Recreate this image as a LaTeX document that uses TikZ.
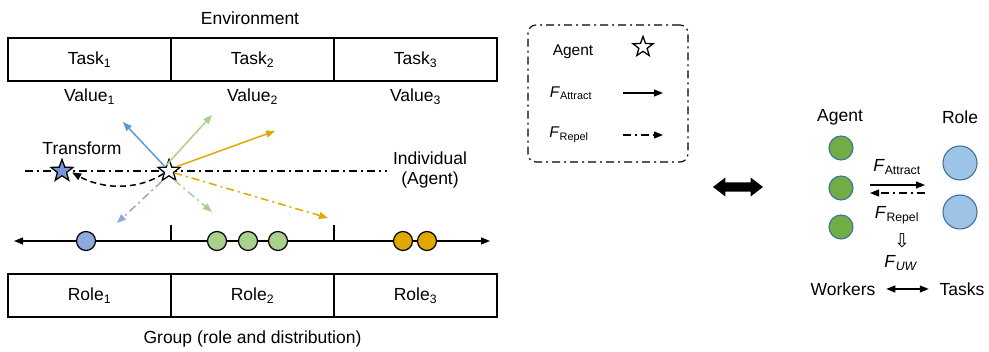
\documentclass[tikz,border=0pt]{standalone}
\usepackage{fontspec}
\setmainfont{Liberation Sans}
\newfontfamily\symfont{DejaVu Sans}
\usetikzlibrary{arrows.meta, positioning, shapes.geometric, shapes.arrows}
\definecolor{blueF}{HTML}{5B9BD5}
\definecolor{blueL}{HTML}{8EA9DB}
\definecolor{greenL}{HTML}{A9D18E}
\definecolor{greenD}{HTML}{70AD47}
\definecolor{orangeF}{HTML}{E0A800}
\definecolor{roleblue}{HTML}{9DC3E6}
\definecolor{rimblue}{HTML}{41719C}
\definecolor{starblue}{HTML}{7796D8}

\begin{document}
\begin{tikzpicture}[x=1pt, y=-1pt, line width=1.1pt,
    >={Triangle[length=9pt,width=7pt]},
    font=\fontsize{17.5}{20}\selectfont]
    \tikzstyle{cell} = [draw, minimum width=163pt, minimum height=43pt, outer sep=0pt]
    \tikzstyle{ball} = [circle, draw, line width=1.2pt, minimum size=19pt, inner sep=0pt]
    \tikzstyle{dashdot} = [dash pattern=on 8pt off 4pt on 2pt off 4pt]
    \tikzstyle{force} = [->, line width=1.5pt]
    \tikzstyle{agentstar} = [star, star points=5, star point ratio=2.4, draw,
        line width=1.3pt, minimum size=23pt, inner sep=0pt]
    \tikzstyle{small} = [font=\fontsize{15.5}{18}\selectfont]
    \useasboundingbox (0,0) rectangle (989,352);

    % environment: tasks and their values
    \node at (250,18) (env) {Environment};
    \node [cell] at (89.5,59.5) (task1) {Task\textsubscript{1}};
    \node [cell, right=0pt of task1] (task2) {Task\textsubscript{2}};
    \node [cell, right=0pt of task2] (task3) {Task\textsubscript{3}};
    \node [below=4pt of task1] (val1) {Value\textsubscript{1}};
    \node [below=4pt of task2] (val2) {Value\textsubscript{2}};
    \node [below=4pt of task3] (val3) {Value\textsubscript{3}};

    % individual level
    \coordinate (lineL) at (25,171);
    \coordinate (lineR) at (387,171);
    \draw [dashdot] (lineL) -- (lineR);
    \node at (82,148) (transform) {Transform};
    \node [align=center] at (430,170) (indiv) {Individual\\(Agent)};
    \node [agentstar, fill=starblue] at (62,171) (moved) {};
    \node [agentstar, fill=white] at (169,171) (agent) {};

    \coordinate (pB) at (123,122);
    \coordinate (pG) at (212,115);
    \coordinate (pO) at (275,131);
    \coordinate (rB) at (117,223);
    \coordinate (rG) at (212,212);
    \coordinate (rO) at (328,218);
    \draw [force, blueF] (agent) -- (pB);
    \draw [force, greenL] (agent.115) -- (pG);
    \draw [force, orangeF] (agent.30) -- (pO);
    \draw [force, dashdot, blueL] (agent.235) -- (rB);
    \draw [force, dashdot, greenL] (agent.-60) -- (rG);
    \draw [force, dashdot, orangeF] (agent.-20) -- (rO);
    \draw [force, dash pattern=on 6pt off 4pt, shorten >=3pt]
        (agent.205) .. controls (135,192) and (100,188) .. (moved.east);

    % group level: role axis
    \coordinate (axL) at (14,241);
    \coordinate (axR) at (490,241);
    \draw [<->] (axL) -- (axR);
    \foreach \t in {task1, task2}
        \draw (\t.south east |- 0,225) -- (\t.south east |- axL);
    \node [ball, fill=blueL] at (86,241) (b1) {};
    \node [ball, fill=greenL] at (217,241) (g1) {};
    \node [ball, fill=greenL] at (248,241) (g2) {};
    \node [ball, fill=greenL] at (278,241) (g3) {};
    \node [ball, fill=orangeF] at (403,241) (o1) {};
    \node [ball, fill=orangeF] at (427,241) (o2) {};

    \node [cell] at (89.5,295.5) (role1) {Role\textsubscript{1}};
    \node [cell, right=0pt of role1] (role2) {Role\textsubscript{2}};
    \node [cell, right=0pt of role2] (role3) {Role\textsubscript{3}};
    \node [below=10pt of role2] (group) {Group (role and distribution)};

    % legend
    \node [draw, dashdot, rounded corners=8pt, minimum width=160pt, minimum height=137pt]
        at (608,93.5) (legend) {};
    \node [small] at (573,52) (lgAgent) {Agent};
    \node [agentstar, minimum size=21pt] at (643,47) (lgStar) {};
    \node [small] at (571,93) (lgAttr) {\textit{F}\textsubscript{Attract}};
    \node [small] at (569,135) (lgRep) {\textit{F}\textsubscript{Repel}};
    \coordinate (lgA1) at (623,93);
    \coordinate (lgA2) at (663,93);
    \coordinate (lgR1) at (623,135);
    \coordinate (lgR2) at (663,135);
    \draw [->] (lgA1) -- (lgA2);
    \draw [->, dashdot] (lgR1) -- (lgR2);

    \node [double arrow, fill=black, minimum height=50pt, inner sep=4pt,
        double arrow head extend=5pt, double arrow tip angle=75] at (738,187) (link) {};

    % agent-role view
    \node at (840,117) (agentHd) {Agent};
    \node at (960,117) (roleHd) {Role};
    \foreach \y [count=\i] in {148,188,227}
        \node [circle, draw=rimblue, fill=greenD, minimum size=24pt] at (841,\y) (ag\i) {};
    \node [circle, draw=rimblue, fill=roleblue, minimum size=34pt] at (960,163) (ro1) {};
    \node [circle, draw=rimblue, fill=roleblue, minimum size=34pt] at (960,212) (ro2) {};
    \coordinate (atA) at (870,185);
    \coordinate (atB) at (925,185);
    \coordinate (rpA) at (925,193);
    \coordinate (rpB) at (870,193);
    \draw [->] (atA) -- (atB);
    \draw [->, dashdot] (rpA) -- (rpB);
    \node at (897,167) (fAttr) {\textit{F}\textsubscript{Attract}};
    \node at (897,215) (fRep) {\textit{F}\textsubscript{Repel}};
    \node [font=\symfont\fontsize{19}{20}\selectfont] at (902,241) (down) {⇩};
    \node at (901,263) (fUW) {\textit{F}\textsubscript{\textit{UW}}};
    \node at (843,289) (workers) {Workers};
    \node at (962,289) (tasks) {Tasks};
    \draw [<->, shorten <=7pt, shorten >=7pt] (workers.east) -- (tasks.west);
\end{tikzpicture}
\end{document}
